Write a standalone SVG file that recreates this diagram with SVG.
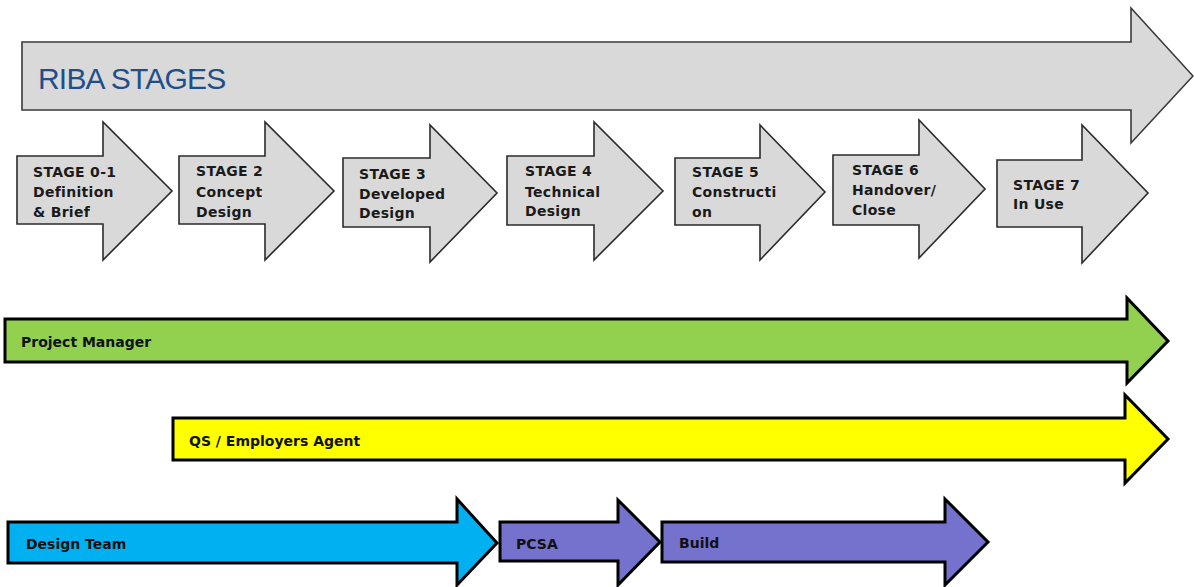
<svg xmlns="http://www.w3.org/2000/svg" width="1194" height="587" viewBox="0 0 1194 587">
<style>
.stage{fill:#d9d9d9;stroke:#2b2b2b;stroke-width:1.6;stroke-linejoin:miter}
.big{fill:#d9d9d9;stroke:#3a3a3a;stroke-width:1.6}
.role{stroke:#000;stroke-width:3;stroke-linejoin:miter}
.st{font-family:"DejaVu Sans",sans-serif;font-weight:bold;font-size:14px;fill:#1a1a1a;letter-spacing:0.3px}
.rl{font-family:"DejaVu Sans",sans-serif;font-weight:bold;font-size:14px;fill:#111}
.title{font-family:"Liberation Sans",Arial,sans-serif;font-size:30px;fill:#1f4e8c;letter-spacing:-0.8px}
</style>
<rect width="1194" height="587" fill="#fff"/>
<g id="riba">
<polygon class="big" points="22,42 1131,42 1131,8 1193,76 1131,143 1131,110 22,110"/>
<text class="title" x="38" y="89">RIBA STAGES</text>
</g>
<g id="stage01">
<polygon class="stage" points="17,156 103,156 103,122 172,191 103,260 103,224 17,224"/>
<text class="st" x="33" y="177">STAGE 0-1</text><text class="st" x="33" y="197">Definition</text><text class="st" x="33" y="217">&amp; Brief</text>
</g>
<g id="stage2">
<polygon class="stage" points="179,156 265,156 265,122 334,191 265,260 265,224 179,224"/>
<text class="st" x="196" y="176">STAGE 2</text><text class="st" x="196" y="197">Concept</text><text class="st" x="196" y="217">Design</text>
</g>
<g id="stage3">
<polygon class="stage" points="343,158 430,158 430,125 497,193 430,262 430,227 343,227"/>
<text class="st" x="359" y="179">STAGE 3</text><text class="st" x="359" y="199">Developed</text><text class="st" x="359" y="218">Design</text>
</g>
<g id="stage4">
<polygon class="stage" points="507,156 594,156 594,122 663,191 594,260 594,225 507,225"/>
<text class="st" x="525" y="176">STAGE 4</text><text class="st" x="525" y="197">Technical</text><text class="st" x="525" y="216">Design</text>
</g>
<g id="stage5">
<polygon class="stage" points="675,158 760,158 760,125 825,192 760,260 760,225 675,225"/>
<text class="st" x="692" y="177">STAGE 5</text><text class="st" x="692" y="197">Constructi</text><text class="st" x="692" y="217">on</text>
</g>
<g id="stage6">
<polygon class="stage" points="833,155 919,155 919,120 985,189 919,258 919,225 833,225"/>
<text class="st" x="852" y="175">STAGE 6</text><text class="st" x="852" y="195">Handover/</text><text class="st" x="852" y="215">Close</text>
</g>
<g id="stage7">
<polygon class="stage" points="997,160 1082,160 1082,125 1148,193 1082,263 1082,227 997,227"/>
<text class="st" x="1013" y="190">STAGE 7</text><text class="st" x="1013" y="209">In Use</text>
</g>
<g id="pm">
<polygon class="role" fill="#92d050" points="5,319 1127,319 1127,298 1168,341 1127,383 1127,362 5,362"/>
<text class="rl" x="21" y="347">Project Manager</text>
</g>
<g id="qs">
<polygon class="role" fill="#ffff00" points="173,418 1125,418 1125,395 1168,439 1125,483 1125,460 173,460"/>
<text class="rl" x="189" y="446">QS / Employers Agent</text>
</g>
<g id="design">
<polygon class="role" fill="#00b0f0" points="8,522 457,522 457,499 497,543 457,585 457,563 8,563"/>
<text class="rl" x="26" y="549">Design Team</text>
</g>
<g id="pcsa">
<polygon class="role" fill="#7472cc" points="500,522 618,522 618,500 660,542 618,585 618,561 500,561"/>
<text class="rl" x="516" y="549">PCSA</text>
</g>
<g id="build">
<polygon class="role" fill="#7472cc" points="662,522 945,522 945,499 988,542 945,585 945,562 662,562"/>
<text class="rl" x="679" y="548">Build</text>
</g>
<g id="connectors"/>
</svg>
